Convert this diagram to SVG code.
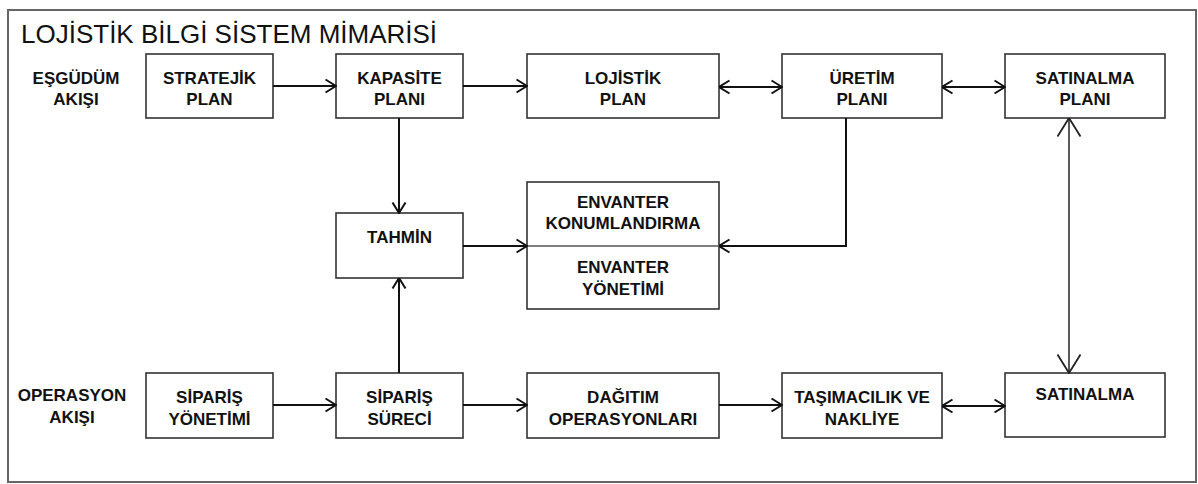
<svg xmlns="http://www.w3.org/2000/svg" width="1198" height="484" viewBox="0 0 1198 484">
  <style>
    .frame { fill: #fff; stroke: #666; stroke-width: 2; }
    .box { fill: #fff; stroke: #333; stroke-width: 1.6; }
    .lbl { font-family: "Liberation Sans", Arial, sans-serif; font-weight: bold; font-size: 17px; fill: #111; text-anchor: middle; }
    .title { font-family: "Liberation Sans", Arial, sans-serif; font-size: 26px; fill: #111; }
    .wire { fill: none; stroke: #111; stroke-width: 2; }
    .wire-thin { fill: none; stroke: #222; stroke-width: 1.5; }
  </style>
  <defs>
    <marker id="arrow" viewBox="0 0 12 16" refX="11.5" refY="8" markerWidth="12" markerHeight="16" markerUnits="userSpaceOnUse" orient="auto-start-reverse">
      <path d="M1,1.5 L11.5,8 L1,14.5" fill="none" stroke="#111" stroke-width="2"/>
    </marker>
    <marker id="arrow-big" viewBox="0 0 20 26" refX="19.5" refY="13" markerWidth="20" markerHeight="26" markerUnits="userSpaceOnUse" orient="auto-start-reverse">
      <path d="M1,1.5 L19.5,13 L1,24.5" fill="none" stroke="#222" stroke-width="1.8"/>
    </marker>
  </defs>

  <rect class="frame" x="8" y="10" width="1188" height="472"/>
  <text class="title" x="21" y="43">LOJİSTİK BİLGİ SİSTEM MİMARİSİ</text>

  <g id="lane-coordination">
    <text class="lbl" x="76" y="84">EŞGÜDÜM</text>
    <text class="lbl" x="76" y="105">AKIŞI</text>
  </g>
  <g id="lane-operation">
    <text class="lbl" x="72" y="401">OPERASYON</text>
    <text class="lbl" x="72" y="423">AKIŞI</text>
  </g>

  <!-- top row -->
  <g id="stratejik-plan">
    <rect class="box" x="146" y="54" width="127" height="64"/>
    <text class="lbl" x="209.5" y="84">STRATEJİK</text>
    <text class="lbl" x="209.5" y="105">PLAN</text>
  </g>
  <g id="kapasite-plani">
    <rect class="box" x="336" y="54" width="127" height="64"/>
    <text class="lbl" x="399.5" y="84">KAPASİTE</text>
    <text class="lbl" x="399.5" y="105">PLANI</text>
  </g>
  <g id="lojistik-plan">
    <rect class="box" x="527" y="54" width="192" height="64"/>
    <text class="lbl" x="623" y="84">LOJİSTİK</text>
    <text class="lbl" x="623" y="105">PLAN</text>
  </g>
  <g id="uretim-plani">
    <rect class="box" x="782" y="54" width="160" height="64"/>
    <text class="lbl" x="862" y="84">ÜRETİM</text>
    <text class="lbl" x="862" y="105">PLANI</text>
  </g>
  <g id="satinalma-plani">
    <rect class="box" x="1005" y="54" width="160" height="64"/>
    <text class="lbl" x="1085" y="84">SATINALMA</text>
    <text class="lbl" x="1085" y="105">PLANI</text>
  </g>

  <!-- middle row -->
  <g id="tahmin">
    <rect class="box" x="336" y="213" width="127" height="65"/>
    <text class="lbl" x="399.5" y="243">TAHMİN</text>
  </g>
  <g id="envanter">
    <rect class="box" x="527" y="182" width="192" height="127"/>
    <line x1="527" y1="246" x2="719" y2="246" stroke="#555" stroke-width="1.6"/>
    <text class="lbl" x="623" y="208">ENVANTER</text>
    <text class="lbl" x="623" y="229">KONUMLANDIRMA</text>
    <text class="lbl" x="623" y="273">ENVANTER</text>
    <text class="lbl" x="623" y="295">YÖNETİMİ</text>
  </g>

  <!-- bottom row -->
  <g id="siparis-yonetimi">
    <rect class="box" x="146" y="373" width="127" height="65"/>
    <text class="lbl" x="209.5" y="403">SİPARİŞ</text>
    <text class="lbl" x="209.5" y="425">YÖNETİMİ</text>
  </g>
  <g id="siparis-sureci">
    <rect class="box" x="336" y="373" width="127" height="65"/>
    <text class="lbl" x="399.5" y="403">SİPARİŞ</text>
    <text class="lbl" x="399.5" y="425">SÜRECİ</text>
  </g>
  <g id="dagitim-operasyonlari">
    <rect class="box" x="527" y="373" width="192" height="65"/>
    <text class="lbl" x="623" y="403">DAĞITIM</text>
    <text class="lbl" x="623" y="425">OPERASYONLARI</text>
  </g>
  <g id="tasimacilik-nakliye">
    <rect class="box" x="782" y="373" width="160" height="65"/>
    <text class="lbl" x="862" y="403">TAŞIMACILIK VE</text>
    <text class="lbl" x="862" y="425">NAKLİYE</text>
  </g>
  <g id="satinalma">
    <rect class="box" x="1005" y="373" width="160" height="64"/>
    <text class="lbl" x="1085" y="400">SATINALMA</text>
  </g>

  <g id="connectors">
    <line class="wire" x1="273" y1="86" x2="336" y2="86" marker-end="url(#arrow)"/>
    <line class="wire" x1="463" y1="86" x2="527" y2="86" marker-end="url(#arrow)"/>
    <line class="wire" x1="719" y1="87" x2="782" y2="87" marker-start="url(#arrow)" marker-end="url(#arrow)"/>
    <line class="wire" x1="942" y1="87" x2="1005" y2="87" marker-start="url(#arrow)" marker-end="url(#arrow)"/>
    <line class="wire" x1="399" y1="118" x2="399" y2="213" marker-end="url(#arrow)"/>
    <line class="wire" x1="399" y1="373" x2="399" y2="278" marker-end="url(#arrow)"/>
    <line class="wire" x1="463" y1="246" x2="527" y2="246" marker-end="url(#arrow)"/>
    <polyline class="wire" points="846,118 846,246 719,246" marker-end="url(#arrow)"/>
    <line class="wire-thin" x1="1069" y1="118" x2="1069" y2="373" marker-start="url(#arrow-big)" marker-end="url(#arrow-big)"/>
    <line class="wire" x1="273" y1="405" x2="336" y2="405" marker-end="url(#arrow)"/>
    <line class="wire" x1="463" y1="405" x2="527" y2="405" marker-end="url(#arrow)"/>
    <line class="wire" x1="719" y1="405" x2="782" y2="405" marker-end="url(#arrow)"/>
    <line class="wire" x1="942" y1="406" x2="1005" y2="406" marker-start="url(#arrow)" marker-end="url(#arrow)"/>
  </g>
</svg>
